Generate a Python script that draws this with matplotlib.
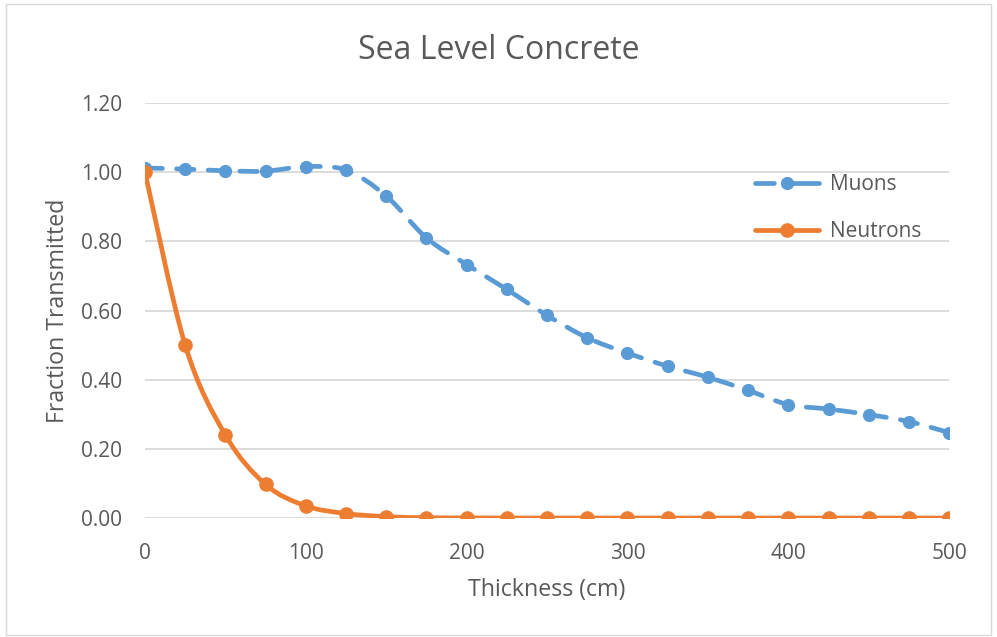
import numpy as np
import matplotlib
matplotlib.use('Agg')
import matplotlib.pyplot as plt
from matplotlib.path import Path
from matplotlib.patches import PathPatch, Rectangle
from matplotlib.lines import Line2D

thickness = [0, 25, 50, 75, 100, 125, 150, 175, 200, 225, 250,
             275, 300, 325, 350, 375, 400, 425, 450, 475, 500]
muons = [1.012, 1.009, 1.004, 1.003, 1.016, 1.006, 0.931, 0.810, 0.733, 0.661, 0.586,
         0.521, 0.477, 0.439, 0.407, 0.369, 0.328, 0.315, 0.299, 0.279, 0.247]
neutrons = [1.0, 0.50, 0.240, 0.097, 0.035, 0.013, 0.004, 0.001, 0.0003, 0.0001, 0.0,
            0.0, 0.0, 0.0, 0.0, 0.0, 0.0, 0.0, 0.0, 0.0, 0.0]

blue = '#5B9BD5'
orange = '#ED7D31'
text_col = '#595959'
dash = (0, (3.7, 3.0))

plt.rcParams['font.family'] = ['Open Sans', 'DejaVu Sans']


def smooth_path(x, y):
    # excel-like smoothed line: catmull-rom segments as cubic beziers
    pts = np.column_stack([x, y]).astype(float)
    n = len(pts)
    verts = [pts[0]]
    codes = [Path.MOVETO]
    for i in range(n - 1):
        p0 = pts[i - 1] if i > 0 else pts[i]
        p1 = pts[i]
        p2 = pts[i + 1]
        p3 = pts[i + 2] if i + 2 < n else pts[i + 1]
        c1 = p1 + (p2 - p0) / 6.0
        c2 = p2 - (p3 - p1) / 6.0
        verts += [c1, c2, p2]
        codes += [Path.CURVE4] * 3
    return Path(verts, codes)


fig = plt.figure(figsize=(9.97, 6.37), dpi=100)
ax = fig.add_axes([0.1454, 0.1868, 0.8066, 0.6515])

# chart border
fig.patches.append(Rectangle((0.006, 0.003), 0.988, 0.99, transform=fig.transFigure,
                             fill=False, edgecolor='#D9D9D9', lw=1.0))

ax.add_patch(PathPatch(smooth_path(thickness, muons), fill=False, edgecolor=blue,
                       lw=3.4, linestyle=dash, capstyle='round', zorder=3))
ax.plot(thickness, muons, 'o', color=blue, ms=8.5, zorder=4)

ax.add_patch(PathPatch(smooth_path(thickness, neutrons), fill=False, edgecolor=orange,
                       lw=3.4, capstyle='round', zorder=5))
ax.plot(thickness, neutrons, 'o', color=orange, ms=9.5, zorder=6)

ax.set_xlim(0, 500)
ax.set_ylim(0, 1.2)
ax.set_xticks(np.arange(0, 501, 100))
ax.set_yticks(np.arange(0, 1.21, 0.2))
ax.set_yticklabels(['%.2f' % v for v in np.arange(0, 1.21, 0.2)])
ax.tick_params(length=0, labelsize=15, labelcolor=text_col)
ax.tick_params(axis='y', pad=16.5)
ax.tick_params(axis='x', pad=18)
for s in ax.spines.values():
    s.set_visible(False)
ax.grid(axis='y', color='#D9D9D9', lw=1.3)
ax.set_axisbelow(True)

fig.text(0.5, 0.921, 'Sea Level Concrete', fontsize=23, color=text_col,
         ha='center', va='center')
ax.set_xlabel('Thickness (cm)', fontsize=16.7, color=text_col)
ax.xaxis.set_label_coords(0.5, -0.173)
ax.xaxis.label.set_va('center')
ax.set_ylabel('Fraction Transmitted', fontsize=16.7, color=text_col)
ax.yaxis.set_label_coords(-0.108, 0.5)
ax.yaxis.label.set_va('center')

handles = [
    Line2D([], [], color=blue, lw=3.4, linestyle=(0, (4.0, 2.2, 8, 2)), marker='o',
           ms=8.5, dash_capstyle='round'),
    Line2D([], [], color=orange, lw=3.4, marker='o', ms=9.5, solid_capstyle='round'),
]
leg = ax.legend(handles, ['Muons', 'Neutrons'], loc='upper left',
                bbox_to_anchor=(0.735, 0.874), frameon=False, fontsize=15,
                labelspacing=1.25, handlelength=3.1, handletextpad=0.5)
for t in leg.get_texts():
    t.set_color(text_col)

plt.savefig('out.png', dpi=100)
